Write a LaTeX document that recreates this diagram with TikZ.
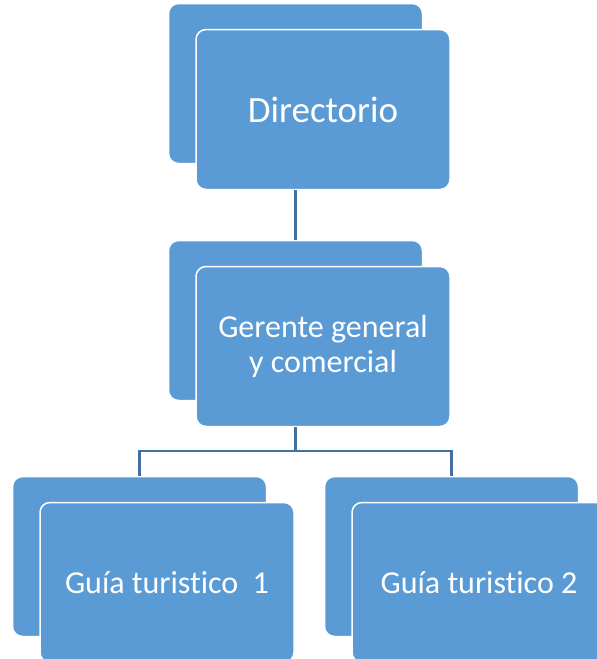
\documentclass[tikz,border=0pt]{standalone}
\usepackage{fontspec}
\setmainfont{Carlito}[RawFeature={-liga;-clig;-dlig;-calt}]
\definecolor{boxblue}{RGB}{91,155,213}
\definecolor{lineblue}{RGB}{65,113,156}

\begin{document}
\begin{tikzpicture}[x=1pt,y=-1pt,
        card/.style={draw=white, line width=1.5pt, fill=boxblue, rounded corners=10pt,
                     minimum width=254pt, minimum height=160pt, inner sep=0pt},
        cardtext/.style={card, text=white, align=center, font=\fontsize{32}{35}\selectfont},
        conn/.style={lineblue, line width=2.2pt}]
            \clip (0,0) rectangle (597,659);
            \node[card] (dirback) at (295.5,83.5) {};
            \node[cardtext, font=\fontsize{37}{40}\selectfont] (dir) at ([shift={(27.5,26)}]dirback) {Directorio};
            \node[card] (gerback) at (295.5,320.5) {};
            \node[cardtext] (ger) at ([shift={(27.5,26)}]gerback) {Gerente general\\y comercial};
            \node[card] (guiaback1) at (139.5,556.5) {};
            \node[cardtext] (guia1) at ([shift={(27.5,26)}]guiaback1) {Guía turistico~~1};
            \node[card] (guiaback2) at (451.5,556.5) {};
            \node[cardtext] (guia2) at ([shift={(27.5,26)}]guiaback2) {Guía turistico 2};
            \draw[conn] (dir.south -| dirback.south) to (gerback.north);
            \draw[conn] (ger.south -| gerback.south) to ++(0,24) coordinate (split);
            \draw[conn] (split) -| (guiaback1.north);
            \draw[conn] (split) -| (guiaback2.north);
        \end{tikzpicture}
\end{document}
